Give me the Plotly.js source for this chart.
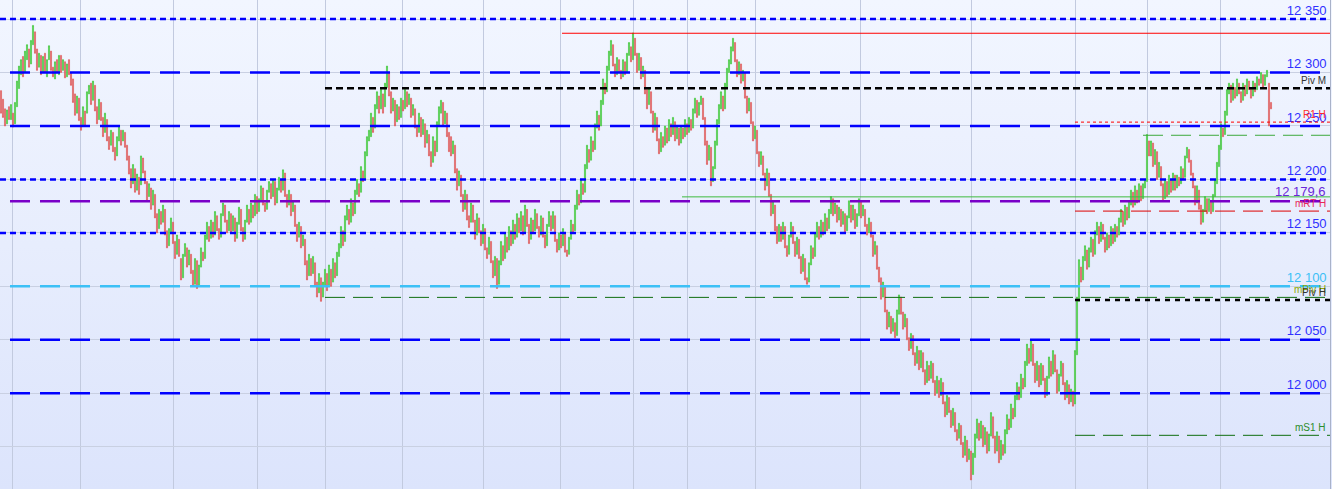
<!DOCTYPE html>
<html>
<head>
<meta charset="utf-8">
<script src="https://cdn.plot.ly/plotly-3.0.1.min.js"></script>
<style>
  html, body { margin: 0; padding: 0; background: #e8eefd; }
  #chart {
    width: 1332px; height: 489px;
    background: linear-gradient(to bottom, #f2f6ff 0%, #e7edfd 50%, #dce4fc 100%);
  }
</style>
</head>
<body>
<div id="chart"></div>
<script>
// Intraday index bars (open / close per bar, points)
const barOpen = [
  12283,12275,12266,12252,12268, 12256,12262,12252,12268,12285,
  12298,12315,12300,12312,12322, 12308,12326,12338,12322,12305,
  12316,12300,12318,12296,12312, 12320,12305,12294,12312,12298,
  12316,12302,12310,12296,12312, 12300,12294,12280,12262,12276,
  12258,12250,12264,12262,12280, 12290,12274,12288,12268,12256,
  12272,12258,12244,12256,12240, 12232,12244,12230,12222,12236,
  12246,12236,12244,12232,12222, 12210,12196,12210,12190,12202,
  12195,12220,12208,12198,12184, 12192,12176,12186,12168,12154,
  12170,12160,12172,12152,12138, 12150,12160,12142,12130,12144,
  12126,12108,12128,12136,12120, 12130,12115,12102,12124,12100,
  12118,12132,12126,12144,12156, 12145,12160,12148,12166,12154,
  12146,12166,12176,12162,12152, 12168,12152,12164,12145,12158,
  12172,12155,12144,12160,12172, 12160,12176,12166,12184,12170,
  12180,12192,12178,12172,12188, 12196,12184,12198,12178,12190,
  12200,12190,12206,12186,12176, 12186,12170,12176,12158,12146,
  12156,12138,12144,12124,12110, 12126,12112,12122,12104,12094,
  12108,12090,12100,12112,12100, 12116,12104,12122,12110,12128,
  12136,12152,12142,12162,12172, 12160,12178,12168,12186,12196,
  12188,12208,12200,12222,12236, 12240,12258,12248,12266,12278,
  12266,12280,12268,12286,12300, 12282,12264,12274,12254,12268,
  12258,12274,12266,12282,12270, 12276,12260,12266,12250,12244,
  12258,12242,12252,12234,12242, 12226,12216,12236,12226,12250,
  12262,12272,12252,12262,12244, 12240,12224,12232,12210,12194,
  12204,12186,12172,12186,12166, 12160,12176,12162,12148,12164,
  12152,12140,12154,12136,12130, 12142,12124,12110,12126,12102,
  12120,12138,12126,12146,12134, 12152,12140,12158,12146,12164,
  12152,12166,12150,12172,12158, 12144,12162,12152,12168,12156,
  12148,12164,12148,12138,12156, 12166,12154,12166,12144,12134,
  12148,12138,12150,12134,12130, 12144,12158,12152,12172,12186,
  12178,12196,12188,12210,12228, 12218,12236,12228,12248,12260,
  12250,12270,12290,12282,12302, 12316,12326,12308,12298,12312,
  12302,12296,12310,12300,12316, 12324,12312,12332,12318,12302,
  12314,12296,12302,12284,12270, 12282,12264,12246,12258,12238,
  12226,12240,12232,12248,12236, 12252,12242,12254,12238,12248,
  12234,12248,12240,12252,12244, 12256,12248,12262,12274,12260,
  12270,12276,12258,12236,12218, 12230,12198,12210,12232,12252,
  12266,12278,12266,12286,12300, 12308,12320,12328,12312,12298,
  12308,12292,12300,12278,12264, 12272,12254,12238,12246,12226,
  12214,12222,12206,12194,12206, 12186,12168,12176,12156,12142,
  12156,12144,12156,12138,12130, 12146,12156,12142,12130,12144,
  12128,12114,12126,12108,12104, 12120,12136,12128,12146,12156,
  12146,12160,12150,12164,12154, 12168,12182,12168,12176,12162,
  12172,12158,12168,12152,12164, 12176,12162,12172,12156,12166,
  12180,12166,12172,12158,12150, 12160,12148,12130,12138,12118,
  12108,12090,12100,12078,12062, 12072,12058,12066,12054,12074,
  12090,12076,12062,12070,12052, 12042,12054,12038,12028,12040,
  12024,12038,12022,12010,12026, 12014,12028,12012,12000,12012,
  11998,12010,11992,11980,11996, 11984,11970,11982,11966,11958,
  11970,11954,11942,11956,11938, 11946,11924,11940,11958,11972,
  11958,11970,11952,11964,11946, 11960,11978,11960,11946,11960,
  11938,11952,11944,11962,11976, 11968,11986,11978,11994,12006,
  11996,12014,12006,12026,12042, 12030,12046,12028,12012,12026,
  12008,12026,12014,11998,12014, 12030,12018,12036,12022,12002,
  12016,12028,12010,11996,12008, 11992,12002,11990,12036,12086,
  12118,12106,12124,12134,12118, 12132,12144,12130,12148,12156,
  12142,12158,12146,12134,12148, 12138,12154,12142,12156,12148,
  12160,12170,12158,12174,12164, 12176,12188,12176,12190,12180,
  12194,12182,12192,12198,12236, 12222,12234,12214,12226,12202,
  12212,12196,12182,12198,12186, 12200,12190,12204,12192,12202,
  12196,12210,12202,12220,12228, 12218,12206,12194,12178,12190,
  12176,12160,12170,12182,12170, 12180,12170,12184,12196,12212,
  12228,12248,12242,12260,12280, 12288,12274,12286,12278,12290,
  12282,12274,12288,12280,12292, 12286,12278,12290,12284,12294,
  12290,12298,12288,12296,12290, 12272
];
const barClose = [
  12262,12258,12250,12265,12256, 12270,12249,12272,12292,12306,
  12312,12296,12320,12326,12305, 12330,12344,12318,12302,12318,
  12298,12315,12300,12312,12325, 12302,12296,12310,12300,12316,
  12300,12312,12295,12308,12298, 12288,12272,12260,12278,12255,
  12246,12268,12250,12282,12288, 12270,12292,12264,12252,12275,
  12255,12240,12262,12236,12228, 12246,12226,12218,12240,12250,
  12232,12246,12230,12218,12205, 12192,12214,12188,12205,12186,
  12222,12206,12196,12180,12196, 12172,12190,12164,12150,12172,
  12158,12176,12148,12136,12154, 12164,12140,12126,12148,12128,
  12106,12130,12140,12118,12134, 12112,12100,12126,12098,12120,
  12136,12124,12148,12160,12142, 12162,12146,12170,12152,12144,
  12168,12178,12160,12150,12170, 12150,12166,12142,12160,12174,
  12152,12142,12162,12176,12158, 12178,12164,12186,12168,12182,
  12194,12176,12170,12190,12198, 12182,12200,12176,12192,12202,
  12188,12209,12184,12174,12190, 12166,12180,12156,12142,12160,
  12136,12148,12120,12106,12130, 12110,12128,12100,12090,12112,
  12086,12104,12116,12096,12120, 12100,12126,12108,12132,12140,
  12156,12138,12166,12176,12158, 12182,12166,12190,12200,12184,
  12212,12198,12226,12240,12246, 12262,12244,12270,12282,12262,
  12284,12262,12290,12306,12278, 12262,12276,12250,12270,12256,
  12276,12264,12284,12268,12280, 12258,12270,12248,12240,12262,
  12240,12256,12230,12246,12222, 12212,12240,12222,12254,12268,
  12274,12250,12264,12240,12226, 12222,12236,12206,12190,12208,
  12184,12170,12190,12162,12155, 12178,12160,12144,12168,12150,
  12138,12158,12134,12126,12146, 12122,12108,12128,12098,12124,
  12142,12124,12150,12132,12156, 12138,12162,12144,12168,12150,
  12170,12148,12176,12156,12140, 12164,12150,12172,12154,12146,
  12166,12146,12136,12158,12170, 12152,12170,12142,12132,12150,
  12136,12154,12132,12128,12146, 12162,12150,12176,12190,12176,
  12200,12186,12214,12232,12216, 12240,12226,12252,12264,12246,
  12274,12294,12280,12306,12320, 12330,12306,12296,12314,12300,
  12294,12312,12298,12318,12328, 12310,12337,12316,12300,12318,
  12294,12306,12280,12266,12286, 12262,12244,12262,12236,12224,
  12244,12230,12250,12234,12256, 12240,12258,12236,12250,12232,
  12250,12238,12256,12242,12258, 12246,12266,12276,12258,12272,
  12278,12256,12232,12214,12232, 12194,12212,12236,12256,12270,
  12282,12264,12290,12304,12312, 12324,12332,12310,12296,12310,
  12290,12302,12276,12262,12276, 12252,12236,12250,12224,12212,
  12226,12204,12190,12210,12184, 12166,12180,12152,12140,12158,
  12142,12160,12136,12128,12148, 12160,12140,12128,12146,12126,
  12112,12130,12106,12102,12122, 12138,12126,12150,12160,12144,
  12162,12148,12168,12152,12172, 12184,12166,12178,12160,12174,
  12156,12170,12150,12166,12180, 12160,12176,12154,12168,12182,
  12164,12176,12156,12148,12164, 12146,12128,12142,12116,12104,
  12088,12104,12076,12060,12076, 12056,12070,12052,12078,12092,
  12074,12060,12074,12050,12040, 12056,12036,12026,12044,12022,
  12040,12020,12008,12030,12012, 12030,12010,11998,12016,11996,
  12014,11990,11978,11998,11982, 11968,11986,11964,11956,11972,
  11952,11940,11960,11936,11948, 11919,11944,11962,11976,11956,
  11974,11950,11968,11944,11962, 11982,11958,11944,11964,11935,
  11956,11942,11966,11980,11966, 11990,11976,11998,12010,11994,
  12018,12004,12030,12046,12028, 12050,12026,12010,12030,12006,
  12028,12012,11996,12016,12034, 12016,12040,12020,12000,12018,
  12030,12008,11994,12012,11990, 12004,11988,12040,12090,12125,
  12104,12128,12138,12116,12136, 12146,12128,12152,12160,12140,
  12160,12144,12132,12150,12136, 12156,12140,12158,12146,12164,
  12172,12156,12176,12162,12180, 12190,12174,12194,12178,12196,
  12180,12196,12200,12242,12222, 12236,12212,12228,12200,12216,
  12194,12180,12200,12184,12204, 12188,12206,12190,12204,12194,
  12212,12200,12222,12230,12216, 12204,12192,12176,12194,12172,
  12158,12172,12184,12168,12182, 12168,12186,12200,12216,12232,
  12252,12240,12264,12284,12290, 12272,12290,12276,12294,12280,
  12272,12290,12278,12294,12284, 12276,12292,12282,12296,12288,
  12300,12286,12298,12302,12250, 12266
];

// Price scale ticks and round-number levels
const priceTicks = [11950, 12000, 12050, 12100, 12150, 12200, 12250, 12300, 12350];
const priceTickText = ['', '12 000', '12 050', '12 100', '12 150', '12 200', '12 250', '12 300', '12 350'];
const roundLevels = [12350, 12300, 12250, 12200, 12150, 12100, 12050, 12000];

// Pivot / reference levels: value, first bar where the level applies, tag
const levelValues = [12336.7, 12285.3, 12253.6, 12241.3, 12183.7, 12179.6, 12170.4, 12089.7, 12087.2, 11960.7];
const levelFrom   = [280.5, 162, 537, 571, 340.5, null, 537, 162, 537, 537];
const levelTags   = ['', 'Piv M', 'R1 H', '', '', '12 179,6', 'mRT H', 'mPiv H', 'Piv H', 'mS1 H'];

// Session boundaries (bar positions) used for the vertical grid
const sessionBreaks = [5.5, 39.5, 86, 128, 162, 200.5, 241, 279.5, 316, 343, 377, 429.5, 485, 537, 573, 609.5, 646];

// ---- styling ----
const FONT = 'Liberation Sans, Arial, sans-serif';
const BLUE = '#0000ff';
const LONG = '20px,10px';
const SHORT = '6px,4px';
const lineStart = -10.5;   // full-width lines start left of the plot so dash phase lines up
const lineEnd = 700;

function roundStyle(v) {
  if (v === 12100) return { color: '#3cc0f6', width: 2.5, dash: LONG };
  if (v === 12350 || v === 12200 || v === 12150) return { color: BLUE, width: 2.5, dash: SHORT };
  return { color: BLUE, width: 2.5, dash: LONG };
}
const levelStyles = [
  { color: '#ff0000', width: 1, dash: 'solid' },
  { color: '#000000', width: 2.5, dash: '7px,4px' },
  { color: '#ff0000', width: 1, dash: '3px,3px' },
  { color: '#3caa3c', width: 1, dash: '20px,8px' },
  { color: '#3dbb3d', width: 1, dash: 'solid' },
  { color: '#7a00c8', width: 2.5, dash: LONG },
  { color: '#dd0000', width: 1, dash: '20px,8px' },
  { color: '#0f6e0f', width: 1, dash: '20px,8px' },
  { color: '#000000', width: 2.5, dash: '5px,5px' },
  { color: '#0f6e0f', width: 1, dash: '20px,8px' }
];
const tagStyles = [
  null,
  { color: '#333333', size: 10 },
  { color: '#ff2a2a', size: 10 },
  null, null,
  { color: '#6a28d8', size: 13 },
  { color: '#e8285a', size: 10 },
  { color: '#8fa800', size: 10 },
  { color: '#333333', size: 10 },
  { color: '#2c8c2c', size: 10 }
];

const barIndex = barOpen.map((_, i) => i);
const barHigh = barOpen.map((o, i) => Math.max(o, barClose[i]));
const barLow = barOpen.map((o, i) => Math.min(o, barClose[i]));

const bars = {
  type: 'candlestick',
  x: barIndex,
  open: barOpen, high: barHigh, low: barLow, close: barClose,
  increasing: { line: { color: '#4ccc46', width: 0.7 }, fillcolor: '#4ccc46' },
  decreasing: { line: { color: '#e06262', width: 0.7 }, fillcolor: '#e06262' },
  whiskerwidth: 0,
  hoverinfo: 'skip',
  showlegend: false
};

const shapes = [];
roundLevels.forEach(v => {
  shapes.push({ type: 'line', xref: 'x', yref: 'y', x0: lineStart, x1: lineEnd, y0: v, y1: v, line: roundStyle(v) });
});
levelValues.forEach((v, k) => {
  const from = levelFrom[k] === null ? lineStart : levelFrom[k];
  shapes.push({ type: 'line', xref: 'x', yref: 'y', x0: from, x1: lineEnd, y0: v, y1: v, line: levelStyles[k] });
});

const annotations = [];
levelValues.forEach((v, k) => {
  if (!levelTags[k]) return;
  const st = tagStyles[k];
  annotations.push({
    xref: 'paper', x: 1, xanchor: 'right', xshift: -2,
    yref: 'y', y: v, yanchor: 'bottom', yshift: 0,
    text: levelTags[k], showarrow: false,
    font: { family: FONT, size: st.size, color: st.color }
  });
});

const tickText = priceTickText.map((t, i) =>
  priceTicks[i] === 12100 ? '<span style="color:#3cc0f6">' + t + '</span>' : t);

const layout = {
  width: 1332, height: 489,
  margin: { l: 0, r: 2, t: 0, b: 0 },
  paper_bgcolor: 'rgba(0,0,0,0)',
  plot_bgcolor: 'rgba(0,0,0,0)',
  showlegend: false,
  hovermode: false,
  boxgap: 0.2,
  xaxis: {
    range: [-0.5, 664.5],
    tickvals: sessionBreaks,
    showticklabels: false, ticks: '',
    showgrid: true, gridcolor: '#c2cadf', gridwidth: 1,
    zeroline: false, showline: false,
    rangeslider: { visible: false },
    fixedrange: true
  },
  yaxis: {
    range: [11910.5, 12367.8],
    side: 'right',
    tickvals: priceTicks, ticktext: tickText,
    ticklabelposition: 'inside',
    ticklabelshift: -9,
    ticklabelstandoff: 3,
    ticks: '',
    tickfont: { family: FONT, size: 13, color: '#3030ff' },
    showgrid: true, gridcolor: '#c9d0e2', gridwidth: 1,
    zeroline: false,
    showline: true, linecolor: '#a9b2c9', linewidth: 1,
    fixedrange: true
  },
  shapes: shapes,
  annotations: annotations
};

Plotly.newPlot('chart', [bars], layout, { staticPlot: true, displayModeBar: false });
</script>
</body>
</html>
